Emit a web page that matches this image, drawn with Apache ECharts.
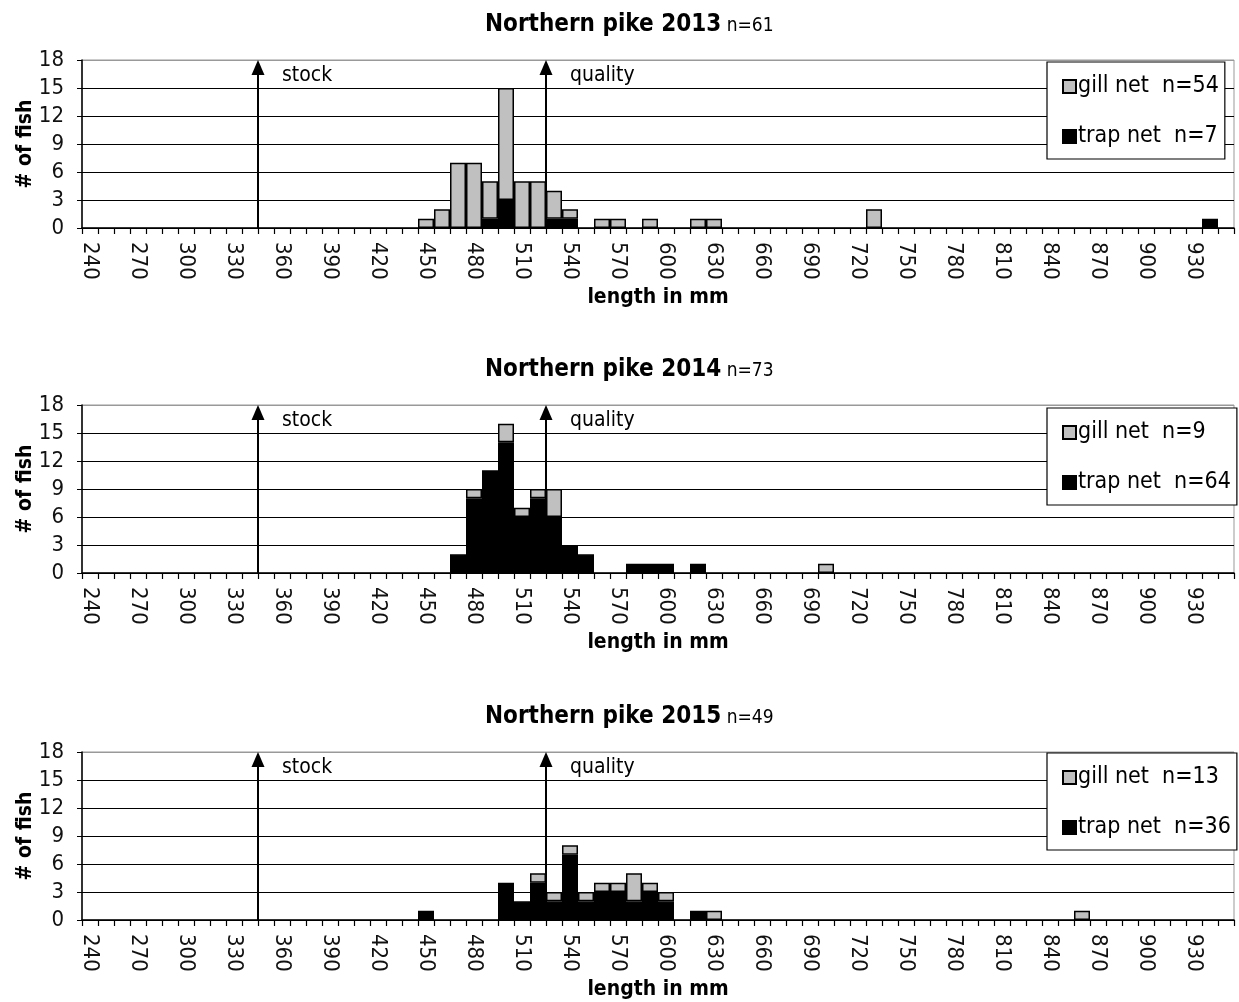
<!DOCTYPE html>
<html>
<head>
<meta charset="utf-8">
<script src="https://cdn.jsdelivr.net/npm/echarts@6/dist/echarts.min.js"></script>
<style>
html,body{margin:0;padding:0;background:#fff;}
#chart{width:1239px;height:1002px;}
</style>
</head>
<body>
<div id="chart"></div>
<script>
// ---- data ----
const categories = [
  '240','250','260','270','280','290','300','310','320','330',
  '340','350','360','370','380','390','400','410','420','430',
  '440','450','460','470','480','490','500','510','520','530',
  '540','550','560','570','580','590','600','610','620','630',
  '640','650','660','670','680','690','700','710','720','730',
  '740','750','760','770','780','790','800','810','820','830',
  '840','850','860','870','880','890','900','910','920','930',
  '940','950'
];

const gill2013 = [
  0,0,0,0,0,0,0,0,0,0,
  0,0,0,0,0,0,0,0,0,0,
  0,1,2,7,7,4,12,5,5,3,
  1,0,1,1,0,1,0,0,1,1,
  0,0,0,0,0,0,0,0,0,2,
  0,0,0,0,0,0,0,0,0,0,
  0,0,0,0,0,0,0,0,0,0,
  0,0
];
const trap2013 = [
  0,0,0,0,0,0,0,0,0,0,
  0,0,0,0,0,0,0,0,0,0,
  0,0,0,0,0,1,3,0,0,1,
  1,0,0,0,0,0,0,0,0,0,
  0,0,0,0,0,0,0,0,0,0,
  0,0,0,0,0,0,0,0,0,0,
  0,0,0,0,0,0,0,0,0,0,
  1,0
];
const gill2014 = [
  0,0,0,0,0,0,0,0,0,0,
  0,0,0,0,0,0,0,0,0,0,
  0,0,0,0,1,0,2,1,1,3,
  0,0,0,0,0,0,0,0,0,0,
  0,0,0,0,0,0,1,0,0,0,
  0,0,0,0,0,0,0,0,0,0,
  0,0,0,0,0,0,0,0,0,0,
  0,0
];
const trap2014 = [
  0,0,0,0,0,0,0,0,0,0,
  0,0,0,0,0,0,0,0,0,0,
  0,0,0,2,8,11,14,6,8,6,
  3,2,0,0,1,1,1,0,1,0,
  0,0,0,0,0,0,0,0,0,0,
  0,0,0,0,0,0,0,0,0,0,
  0,0,0,0,0,0,0,0,0,0,
  0,0
];
const gill2015 = [
  0,0,0,0,0,0,0,0,0,0,
  0,0,0,0,0,0,0,0,0,0,
  0,0,0,0,0,0,0,0,1,1,
  1,1,1,1,3,1,1,0,0,1,
  0,0,0,0,0,0,0,0,0,0,
  0,0,0,0,0,0,0,0,0,0,
  0,0,1,0,0,0,0,0,0,0,
  0,0
];
const trap2015 = [
  0,0,0,0,0,0,0,0,0,0,
  0,0,0,0,0,0,0,0,0,0,
  0,1,0,0,0,0,4,2,4,2,
  7,2,3,3,2,3,2,0,1,0,
  0,0,0,0,0,0,0,0,0,0,
  0,0,0,0,0,0,0,0,0,0,
  0,0,0,0,0,0,0,0,0,0,
  0,0
];

const panelTitles = ['Northern pike 2013','Northern pike 2014','Northern pike 2015'];
const panelTotals = ['n=61','n=73','n=49'];
const gillNames = ['gill net  n=54','gill net  n=9','gill net  n=13'];
const trapNames = ['trap net  n=7','trap net  n=64','trap net  n=36'];
const gillData = [gill2013, gill2014, gill2015];
const trapData = [trap2013, trap2014, trap2015];

const markerNames = ['stock','quality'];
const markerValues = [350, 530];   // mm (bin left edges)
const xRange = [240, 960];         // extent of the binned length axis (mm)
const yTicks = [0, 3, 6, 9, 12, 15, 18];

// ---- layout / style ----
const FONT = "'Liberation Sans Narrow','Arial Narrow','DejaVu Sans Condensed',sans-serif";
const gridTops = [60, 405, 752];
const gridH = 168;
const gridLeft = 82, gridW = 1152;
const legendTops = [62, 408, 753];
const yMax = yTicks[yTicks.length - 1];
const arrowTipGap = 7.5 / gridH * yMax;  // keep arrow tip at the top gridline

const option = {
  animation: false,
  backgroundColor: '#fff',
  title: [], grid: [], xAxis: [], yAxis: [], legend: [], series: []
};

const splitColors = yTicks.map((v, k) => k === yTicks.length - 1 ? '#999' : '#000');

for (let i = 0; i < 3; i++) {
  option.title.push({
    text: '{a|' + panelTitles[i] + '}{b| ' + panelTotals[i] + '}',
    left: 480, top: gridTops[i] - 52,
    textStyle: {
      fontWeight: 'normal',
      rich: {
        a: {fontFamily: FONT, fontSize: 24, fontWeight: 'bold', color: '#000'},
        b: {fontFamily: FONT, fontSize: 19, fontWeight: 'normal', color: '#000', padding: [3, 0, 0, 0]}
      }
    }
  });
  option.grid.push({
    left: gridLeft, width: gridW, top: gridTops[i], height: gridH,
    show: true, borderColor: '#999', borderWidth: 1
  });
  option.xAxis.push({
    type: 'category', gridIndex: i, data: categories, boundaryGap: true,
    axisLine: {lineStyle: {color: '#000', width: 1.5}},
    axisTick: {show: true, interval: 0, length: 6, lineStyle: {color: '#000', width: 1.2}},
    axisLabel: {interval: 2, rotate: -90, margin: 14, fontFamily: FONT, fontSize: 22, color: '#111'},
    splitLine: {show: false},
    name: 'length in mm', nameLocation: 'middle', nameGap: 59,
    nameTextStyle: {fontFamily: FONT, fontWeight: 'bold', fontSize: 21, color: '#000'}
  });
  option.xAxis.push({
    type: 'value', gridIndex: i, min: xRange[0], max: xRange[1], show: false
  });
  option.yAxis.push({
    type: 'value', gridIndex: i, min: yTicks[0], max: yMax, interval: 3,
    axisLine: {show: true, lineStyle: {color: '#000', width: 1.5}},
    axisTick: {show: true, length: 5, lineStyle: {color: '#000'}},
    axisLabel: {fontFamily: FONT, fontSize: 22, color: '#111', margin: 18},
    splitLine: {show: true, lineStyle: {color: splitColors, width: 1.2}},
    name: '# of fish', nameLocation: 'middle', nameRotate: 90, nameGap: 46,
    nameMoveOverlap: false,
    nameTextStyle: {fontFamily: FONT, fontWeight: 'bold', fontSize: 21, color: '#000'}
  });
  option.legend.push({
    data: [gillNames[i], trapNames[i]],
    orient: 'vertical', left: 1047, top: legendTops[i],
    padding: [13, 6, 11, 15], itemGap: 27,
    itemWidth: 13, itemHeight: 13, icon: 'rect',
    backgroundColor: '#fff', borderColor: '#000', borderWidth: 1.2,
    textStyle: {fontFamily: FONT, fontSize: 23, color: '#000', width: 150, overflow: 'none', padding: [0, 0, 0, -3]},
    selectedMode: false, z: 10
  });
  option.series.push({
    type: 'bar', name: trapNames[i], xAxisIndex: 2 * i, yAxisIndex: i, stack: 'p' + i,
    data: trapData[i].map(v => v === 0 ? '-' : v),
    barCategoryGap: '0%',
    itemStyle: {color: '#000', borderColor: '#000', borderWidth: 1.5},
    silent: true
  });
  option.series.push({
    type: 'bar', name: gillNames[i], xAxisIndex: 2 * i, yAxisIndex: i, stack: 'p' + i,
    data: gillData[i].map(v => v === 0 ? '-' : v),
    barCategoryGap: '0%',
    itemStyle: {color: '#c0c0c0', borderColor: '#000', borderWidth: 1.5},
    silent: true
  });
  option.series.push({
    type: 'line', name: 'markers' + i, xAxisIndex: 2 * i + 1, yAxisIndex: i,
    data: [], silent: true, z: 5,
    markLine: {
      silent: true, symbol: ['none', 'triangle'], symbolSize: [13, 15],
      lineStyle: {color: '#000', width: 2, type: 'solid'},
      label: {show: false},
      data: markerValues.map(v => [{coord: [v, 0]}, {coord: [v, yMax - arrowTipGap]}])
    },
    markPoint: {
      silent: true, symbol: 'rect', symbolSize: 0,
      label: {show: true, position: 'right', distance: 24, formatter: '{b}',
              fontFamily: FONT, fontSize: 21, color: '#000'},
      data: markerValues.map((v, k) => ({name: markerNames[k], coord: [v, 16.3]}))
    }
  });
}

const chart = echarts.init(document.getElementById('chart'), null, {renderer: 'canvas'});
chart.setOption(option);
</script>
</body>
</html>
